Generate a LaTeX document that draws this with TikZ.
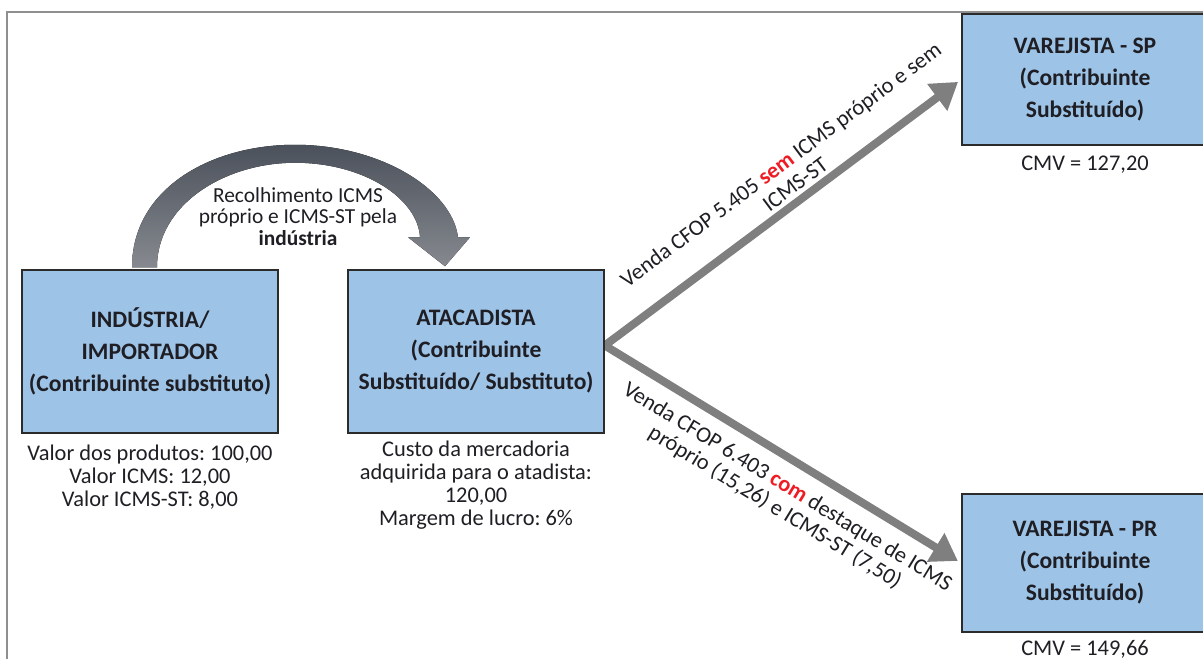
\documentclass[tikz,border=0pt]{standalone}
\usepackage{fontspec}
\setmainfont{Carlito}
\usetikzlibrary{positioning,arrows.meta,calc,backgrounds}
\definecolor{boxblue}{HTML}{9DC3E6}
\definecolor{boxline}{HTML}{2B2B2B}
\definecolor{ink}{HTML}{1E1E24}
\definecolor{flowgray}{HTML}{7F7F7F}
\definecolor{bendhi}{HTML}{4B515B}
\definecolor{bendlo}{HTML}{86898F}
\definecolor{framegray}{HTML}{8F8F8F}
\definecolor{hot}{HTML}{EE1C25}
\frenchspacing

\begin{document}
\begin{tikzpicture}[
    x=0.5pt, y=-0.5pt,
    party/.style={draw=boxline, fill=boxblue, line width=0.75pt,
                  align=center, inner sep=0pt, text=ink,
                  font=\bfseries\fontsize{11.8}{16}\selectfont},
    note/.style={align=center, inner sep=0pt, text=ink,
                 font=\fontsize{11.2}{11.5}\selectfont},
    slant/.style={note, sloped, font=\fontsize{11.2}{12}\selectfont},
    sale/.style={line width=4pt, color=flowgray, line join=miter,
                 >={Triangle[length=13pt,width=16pt]}, <->,
                 shorten <=2pt, shorten >=2pt},
  ]
  \useasboundingbox (0,0) rectangle (1203,659);
  \draw[framegray, line width=0.8pt] (7,659) -- (7,12) -- (1210,12);

  \node[party, minimum width=128pt, minimum height=81.5pt] (ind) at (150,351.5)
    {INDÚSTRIA/\\IMPORTADOR\\(Contribuinte substituto)};
  \node[party, minimum width=128pt, minimum height=81.5pt] (ata) at (476,351.5)
    {ATACADISTA\\(Contribuinte\\Substituído/ Substituto)};
  \node[party, minimum width=123pt, minimum height=65.5pt] (vsp) at (1085,79.5)
    {VAREJISTA - SP\\(Contribuinte\\Substituído)};
  \node[party, minimum width=123pt, minimum height=69pt] (vpr) at (1085,563)
    {VAREJISTA - PR\\(Contribuinte\\Substituído)};

  \node[note, below=5.5pt of ind] (indnote)
    {Valor dos produtos: 100,00\\Valor ICMS: 12,00\\Valor ICMS-ST: 8,00};
  \node[note, below=3.5pt of ata] (atanote)
    {Custo da mercadoria\\adquirida para o atadista:\\120,00\\Margem de lucro: 6\%};
  \node[note, below=5pt of vsp] (spcmv) {CMV = 127,20};
  \node[note, below=3.5pt of vpr] (prcmv) {CMV = 149,66};

  \node[note, font=\fontsize{10.7}{10.75}\selectfont] (payment)
    at ($(ind.north)!0.5!(ata.north)+(-15,-53)$)
    {Recolhimento ICMS\\próprio e ICMS-ST pela\\\textbf{indústria}};

  \coordinate (fork) at ($(ata.east)+(0,-6)$);
  \coordinate (bendfrom) at ($(ind.north)+(-5,-2)$);
  \coordinate (bendto) at ($(ata.north)+(-31,-3)$);
  \coordinate (bendtop) at ($(bendfrom)!0.5!(bendto)+(0,-122)$);

  \begin{scope}[on background layer]
    % curved arrow industria -> atacadista
    \fill[top color=bendhi, bottom color=bendlo]
      ($(bendfrom)+(-13,0)$) .. controls +(0,-78) and +(-85,0) .. (bendtop)
      .. controls +(85,0) and +(-6,-48) .. ($(bendto)+(13,-29)$)
      -- ($(bendto)+(25,-29)$) -- (bendto) -- ($(bendto)+(-37,-29)$)
      -- ($(bendto)+(-25,-29)$)
      .. controls +(-2,-38) and +(70,0) .. ($(bendtop)+(0,18)$)
      .. controls +(-70,0) and +(0,-63) .. ($(bendfrom)+(12,0)$) -- cycle;
    \draw[sale] (vsp.west) -- (fork) -- (vpr.west);
  \end{scope}

  \path (fork) -- node[slant, pos=0.56, above=3.8pt]
    {Venda CFOP 5.405 \textcolor{hot}{\textbf{sem}} ICMS próprio e sem\\ICMS-ST} (vsp.west);
  \path (fork) -- node[slant, pos=0.55, below=8pt]
    {Venda CFOP 6.403 \textcolor{hot}{\textbf{com}} destaque de ICMS\\próprio (15,26) e ICMS-ST (7,50)} (vpr.west);
\end{tikzpicture}
\end{document}
